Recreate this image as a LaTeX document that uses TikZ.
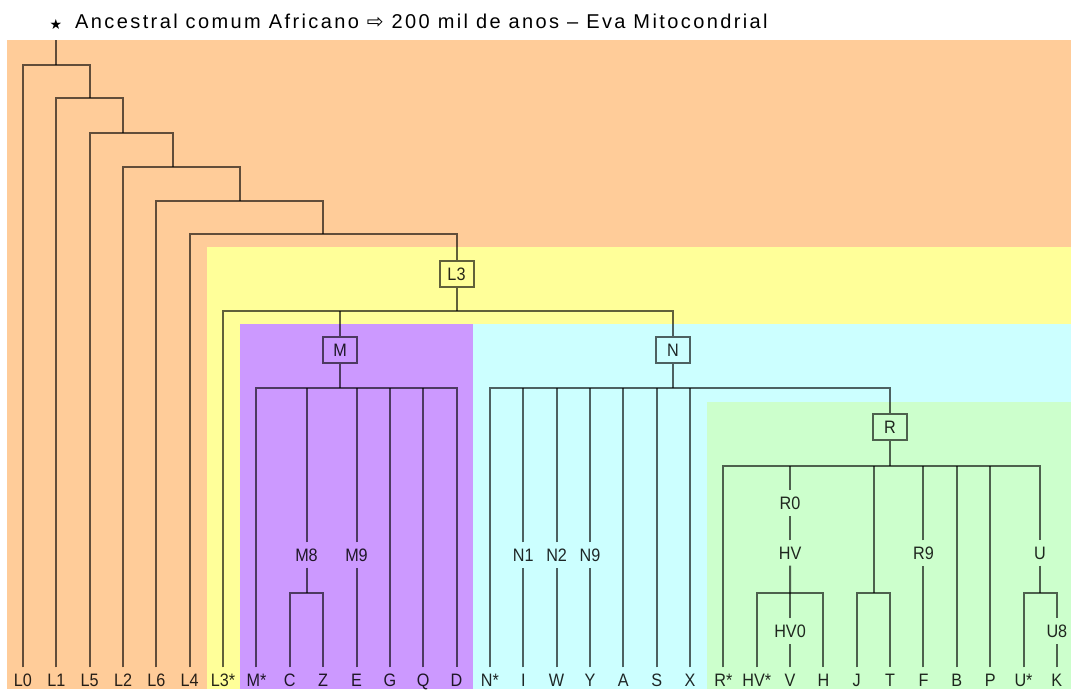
\documentclass[tikz,border=0pt]{standalone}
\usepackage{fontspec}
\setmainfont{Liberation Sans}
\newfontfamily\titlefont[LetterSpace=12]{Liberation Sans}
\newfontfamily\labelfont[FakeStretch=0.9]{Liberation Sans}
\newfontfamily\symfont{DejaVu Sans}
\usetikzlibrary{calc}

\definecolor{bgorange}{HTML}{FFCC99}
\definecolor{bgyellow}{HTML}{FFFF99}
\definecolor{bgpurple}{HTML}{CC99FF}
\definecolor{bgcyan}{HTML}{CCFFFF}
\definecolor{bggreen}{HTML}{CCFFCC}

\begin{document}
\begin{tikzpicture}[
  x=1pt,
  y=-1pt,
  line/.style={draw=black,draw opacity=0.62,line width=2pt},
  leaf/.style={font=\labelfont\fontsize{18}{18}\selectfont,text=black,text opacity=0.85,
    inner xsep=1pt,inner ysep=6pt,text height=12.9pt,text depth=0pt},
  tag/.style={leaf},
  cladebox/.style={leaf,line,minimum width=34pt,minimum height=26pt,inner ysep=0pt}
]
\useasboundingbox (0,0) rectangle (1071,689);

% Coloured regions
\fill[bgorange] (7,40) rectangle (1071,689);
\fill[bgyellow] (207,247) rectangle (1071,689);
\fill[bgpurple] (240,324) rectangle (473,689);
\fill[bgcyan] (473,324) rectangle (1071,689);
\fill[bggreen] (707,402) rectangle (1071,689);

% Heading
\node[anchor=base,font=\symfont\fontsize{14}{14}\selectfont,inner sep=0pt] (star) at (56,29) {★};
\node[anchor=base west,font=\titlefont\fontsize{20}{20}\selectfont,inner sep=0pt] (title) at (75,28)
  {Ancestral comum Africano {\symfont ⇨} 200 mil de anos – Eva Mitocondrial};

% Leaves
\foreach \nm/\lb [count=\i from 0] in {L0/L0,L1/L1,L5/L5,L2/L2,L6/L6,L4/L4,L3s/L3*,
    Ms/M*,C/C,Z/Z,E/E,G/G,Q/Q,D/D,Ns/N*,I/I,W/W,Y/Y,A/A,S/S,X/X,
    Rs/R*,HVs/HV*,V/V,H/H,J/J,T/T,F/F,B/B,P/P,Us/U*,K/K}
  \node[leaf] (\nm) at ({23+33.35*\i},680) {\lb};

% Clade boxes
\node[cladebox] (boxL3) at (456.5,274) {L3};
\node[cladebox] (boxM) at (340,350) {M};
\node[cladebox] (boxN) at (673,350) {N};
\node[cladebox] (boxR) at (890,427) {R};

% Labels on branches
\node[tag] (tM8) at (306.5,555) {M8};
\node[tag] (tM9) at (E |- 0,555) {M9};
\node[tag] (tN1) at (I |- 0,555) {N1};
\node[tag] (tN2) at (W |- 0,555) {N2};
\node[tag] (tN9) at (Y |- 0,555) {N9};
\node[tag] (tR0) at (V |- 0,503) {R0};
\node[tag] (tHV) at (V |- 0,553) {HV};
\node[tag] (tHV0) at (V |- 0,631) {HV0};
\node[tag] (tR9) at (F |- 0,553) {R9};
\node[tag] (tU) at (1040,553) {U};
\node[tag] (tU8) at (K |- 0,631) {U8};

% Branch points
\coordinate (top) at (56.4,40);
\coordinate (b1) at (56.4,65);
\coordinate (b2) at (89.7,98);
\coordinate (b3) at (123,133);
\coordinate (b4) at (173,167);
\coordinate (b5) at (240,201);
\coordinate (b6) at (323,234);
\coordinate (b7) at (456.5,311);
\coordinate (bM) at (340,388);
\coordinate (bM8) at (306.5,593);
\coordinate (bN) at (673,388);
\coordinate (bR) at (890,466);
\coordinate (bHV) at (790,593);
\coordinate (bJT) at (873.5,593);
\coordinate (bU) at (1040,593);

% African L lineages
\draw[line] (top) -- (b1);
\foreach \lf/\from/\to in {L0/b1/b2,L1/b2/b3,L5/b3/b4,L2/b4/b5,L6/b5/b6}
  \draw[line] (\lf.north) |- (\from) -| (\to);
\draw[line] (L4.north) |- (b6) -| (boxL3.north);
\draw[line] (boxL3.south) -- (b7);
\draw[line] (L3s.north) |- (b7) -| (boxN.north);
\draw[line] (boxM.north) -- (boxM.north |- b7);

% M
\draw[line] (boxM.south) -- (bM);
\draw[line] (Ms.north) |- (bM) -| (D.north);
\foreach \up in {tM8,tM9,G,Q}
  \draw[line] (\up.north) -- (\up.north |- bM);
\draw[line] (tM8.south) -- (bM8);
\draw[line] (C.north) |- (bM8) -| (Z.north);
\draw[line] (E.north) -- (tM9.south);

% N
\draw[line] (boxN.south) -- (bN);
\draw[line] (Ns.north) |- (bN) -| (boxR.north);
\foreach \up in {tN1,tN2,tN9,A,S,X}
  \draw[line] (\up.north) -- (\up.north |- bN);
\foreach \lo/\hi in {I/tN1,W/tN2,Y/tN9}
  \draw[line] (\lo.north) -- (\hi.south);

% R
\draw[line] (boxR.south) -- (bR);
\draw[line] (Rs.north) |- (bR) -| (tU.north);
\foreach \up in {tR0,tR9,B,P}
  \draw[line] (\up.north) -- (\up.north |- bR);
\draw[line] (bJT) -- (bJT |- bR);
\draw[line] (tHV.north) -- (tR0.south);
\draw[line] (tHV.south) -- (bHV);
\draw[line] (HVs.north) |- (bHV) -| (H.north);
\draw[line] (tHV0.north) -- (tHV0.north |- bHV);
\draw[line] (V.north) -- (tHV0.south);
\draw[line] (J.north) |- (bJT) -| (T.north);
\draw[line] (F.north) -- (tR9.south);
\draw[line] (tU.south) -- (bU);
\draw[line] (Us.north) |- (bU) -| (tU8.north);
\draw[line] (K.north) -- (tU8.south);

\end{tikzpicture}
\end{document}
